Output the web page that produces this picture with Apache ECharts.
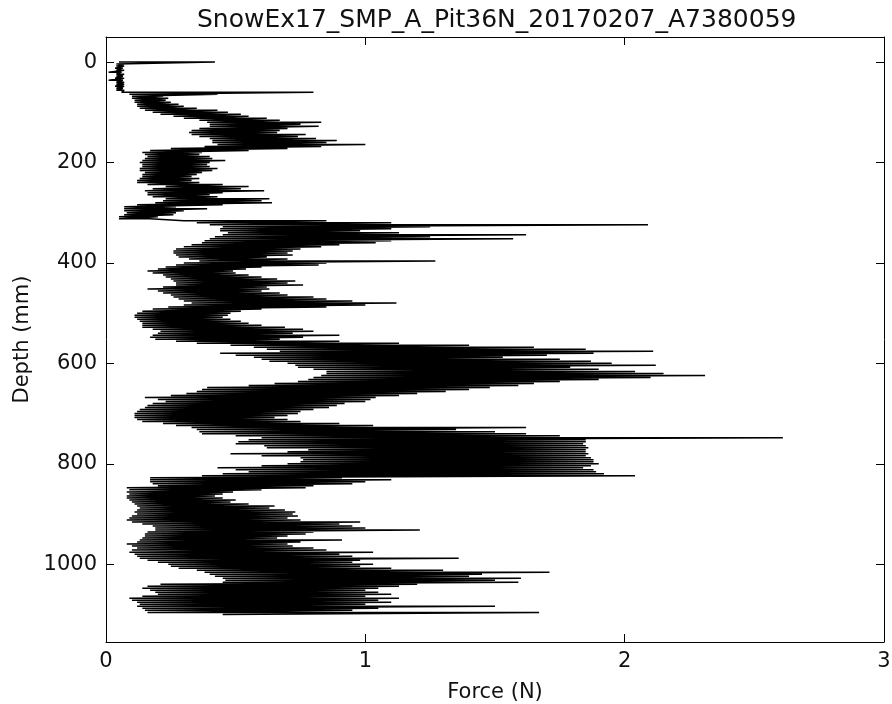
<!DOCTYPE html>
<html>
<head>
<meta charset="utf-8">
<script src="https://cdn.jsdelivr.net/npm/echarts@6/dist/echarts.min.js"></script>
<style>
html,body{margin:0;padding:0;background:#fff;}
#c{width:892px;height:704px;}
</style>
</head>
<body>
<div id="c"></div>
<script>
const titleText = 'SnowEx17_SMP_A_Pit36N_20170207_A7380059';
const xName = 'Force (N)';
const yName = 'Depth (mm)';
const yTicks = [0, 200, 400, 600, 800, 1000];

// depth (mm) of each sampled row
const depth = [
0,4,8,12,16,20,24,28,32,36,
40,44,48,52,56,60,64,68,72,76,
80,84,88,92,96,100,104,108,112,116,
120,124,128,132,136,140,144,148,152,156,
160,164,168,172,176,180,184,188,192,196,
200,204,208,212,216,220,224,228,232,236,
240,244,248,252,256,260,264,268,272,276,
280,284,288,292,296,300,304,308,312,316,
320,324,328,332,336,340,344,348,352,356,
360,364,368,372,376,380,384,388,392,396,
400,404,408,412,416,420,424,428,432,436,
440,444,448,452,456,460,464,468,472,476,
480,484,488,492,496,500,504,508,512,516,
520,524,528,532,536,540,544,548,552,556,
560,564,568,572,576,580,584,588,592,596,
600,604,608,612,616,620,624,628,632,636,
640,644,648,652,656,660,664,668,672,676,
680,684,688,692,696,700,704,708,712,716,
720,724,728,732,736,740,744,748,752,756,
760,764,768,772,776,780,784,788,792,796,
800,804,808,812,816,820,824,828,832,836,
840,844,848,852,856,860,864,868,872,876,
880,884,888,892,896,900,904,908,912,916,
920,924,928,932,936,940,944,948,952,956,
960,964,968,972,976,980,984,988,992,996,
1000,1004,1008,1012,1016,1020,1024,1028,1032,1036,
1040,1044,1048,1052,1056,1060,1064,1068,1072,1076,
1080,1084,1088,1092,1096,1100
];

// low-side force (N) of the trace at each row
const forceLow = [
0.05,0.04,0.04,0.035,0.04,0.01,0.04,0.04,0.035,0.01,
0.04,0.04,0.035,0.04,0.04,0.06,0.09,0.10,0.10,0.11,
0.11,0.12,0.12,0.13,0.15,0.18,0.21,0.26,0.30,0.36,
0.39,0.40,0.40,0.36,0.33,0.32,0.33,0.36,0.40,0.41,
0.41,0.43,0.38,0.25,0.17,0.14,0.15,0.16,0.15,0.14,
0.13,0.14,0.14,0.13,0.13,0.15,0.14,0.14,0.13,0.12,
0.12,0.16,0.23,0.18,0.15,0.16,0.16,0.18,0.23,0.22,
0.19,0.12,0.07,0.07,0.07,0.08,0.07,0.05,0.05,0.30,
0.35,0.40,0.45,0.44,0.44,0.47,0.45,0.42,0.40,0.38,
0.37,0.33,0.30,0.27,0.26,0.26,0.27,0.28,0.32,0.36,
0.30,0.27,0.23,0.20,0.16,0.18,0.22,0.23,0.25,0.26,
0.27,0.27,0.22,0.16,0.20,0.22,0.25,0.26,0.28,0.30,
0.33,0.30,0.24,0.18,0.14,0.12,0.11,0.11,0.12,0.13,
0.14,0.14,0.14,0.18,0.21,0.20,0.18,0.17,0.19,0.27,
0.35,0.48,0.57,0.62,0.67,0.44,0.50,0.57,0.60,0.63,
0.70,0.73,0.74,0.80,0.85,0.85,0.83,0.80,0.78,0.74,
0.65,0.55,0.39,0.37,0.35,0.31,0.25,0.15,0.20,0.23,
0.18,0.16,0.15,0.13,0.12,0.11,0.11,0.11,0.12,0.14,
0.22,0.27,0.33,0.35,0.36,0.37,0.50,0.60,0.55,0.51,
0.50,0.61,0.62,0.78,0.70,0.48,0.60,0.75,0.76,0.75,
0.70,0.60,0.43,0.50,0.55,0.45,0.37,0.17,0.17,0.17,
0.18,0.20,0.08,0.09,0.08,0.09,0.08,0.08,0.09,0.10,
0.11,0.12,0.13,0.12,0.11,0.12,0.10,0.09,0.08,0.10,
0.14,0.18,0.19,0.19,0.16,0.15,0.15,0.14,0.13,0.12,
0.08,0.10,0.12,0.10,0.09,0.11,0.12,0.13,0.16,0.20,
0.24,0.25,0.28,0.35,0.38,0.40,0.42,0.45,0.46,0.45,
0.21,0.16,0.14,0.17,0.19,0.20,0.14,0.09,0.10,0.12,
0.13,0.12,0.14,0.15,0.16,0.45
];

// high-side force (N) of the trace at each row
const forceHigh = [
0.42,0.07,0.07,0.065,0.07,0.06,0.07,0.065,0.07,0.065,
0.07,0.07,0.07,0.065,0.07,0.80,0.43,0.22,0.24,0.23,
0.25,0.28,0.30,0.35,0.43,0.47,0.52,0.55,0.62,0.67,
0.83,0.75,0.82,0.70,0.67,0.66,0.77,0.74,0.81,0.89,
0.85,1.00,0.83,0.70,0.55,0.37,0.36,0.40,0.41,0.46,
0.40,0.39,0.40,0.43,0.41,0.37,0.35,0.33,0.36,0.33,
0.36,0.45,0.55,0.52,0.61,0.45,0.40,0.43,0.63,0.60,
0.64,0.45,0.27,0.39,0.30,0.27,0.26,0.20,0.17,0.85,
1.10,2.09,1.25,1.10,0.98,1.13,1.62,1.25,1.57,1.10,
1.04,0.90,0.83,0.75,0.72,0.70,0.72,0.62,0.70,1.27,
0.85,0.82,0.60,0.54,0.49,0.50,0.55,0.60,0.66,0.73,
0.70,0.76,0.62,0.63,0.60,0.67,0.70,0.80,0.85,0.95,
1.12,1.00,0.85,0.60,0.52,0.48,0.47,0.45,0.48,0.52,
0.55,0.60,0.69,0.76,0.80,0.72,0.90,0.76,0.67,0.90,
1.13,1.40,1.65,1.85,2.11,1.88,1.70,1.53,1.75,1.87,
1.95,2.12,1.79,1.90,2.04,2.15,2.31,2.10,1.90,1.75,
1.65,1.59,1.48,1.40,1.31,1.20,1.13,1.04,1.02,1.00,
0.92,0.89,0.86,0.80,0.75,0.74,0.70,0.65,0.70,0.75,
0.90,1.03,1.62,1.35,1.50,1.62,1.75,2.61,1.85,1.85,
1.84,1.85,1.86,1.85,1.85,1.86,1.85,1.87,1.88,1.88,
1.90,1.87,1.84,1.88,1.89,1.92,2.04,0.91,1.10,1.00,
0.95,0.80,0.77,0.60,0.49,0.45,0.42,0.45,0.50,0.48,
0.55,0.65,0.63,0.69,0.73,0.72,0.74,0.70,0.75,0.98,
0.90,0.95,1.00,1.21,0.80,0.77,0.70,0.66,0.91,0.75,
0.70,0.72,0.80,0.85,1.03,0.90,0.95,1.36,0.98,0.95,
1.03,0.98,1.10,1.30,1.71,1.45,1.40,1.60,1.50,1.59,
1.20,1.13,1.05,1.00,1.05,1.10,1.00,1.13,1.05,1.10,
1.00,1.50,1.05,0.95,1.67,0.60
];

// the trace sweeps low -> high at each depth row
const points = [];
depth.forEach((d, i) => {
  points.push([forceLow[i], d]);
  points.push([forceHigh[i], d]);
});

const txt = '#111';
const font = 'DejaVu Sans';
const chart = echarts.init(document.getElementById('c'), null, {renderer: 'canvas'});

const baseX = {
  type: 'value', min: 0, max: 3, interval: 1,
  axisLine: {show: true, onZero: false, lineStyle: {color: '#000', width: 1}},
  axisTick: {show: true, inside: true, length: 8, lineStyle: {color: '#000', width: 1}},
  splitLine: {show: false}
};
const baseY = {
  type: 'value', min: -50, max: 1155, inverse: true,
  axisLine: {show: true, onZero: false, lineStyle: {color: '#000', width: 1}},
  axisTick: {show: true, inside: true, length: 8, customValues: yTicks, lineStyle: {color: '#000', width: 1}},
  splitLine: {show: false}
};

chart.setOption({
  animation: false,
  backgroundColor: '#fff',
  title: {
    text: titleText, left: 192, top: 3,
    textStyle: {fontFamily: font, fontSize: 25, fontWeight: 'normal', color: txt}
  },
  grid: {left: 106, right: 8, top: 37, bottom: 62, containLabel: false, outerBoundsMode: 'none'},
  xAxis: [
    Object.assign({}, baseX, {
      position: 'bottom', name: xName, nameLocation: 'middle', nameGap: 40,
      nameTextStyle: {fontFamily: font, fontSize: 21, color: txt},
      axisLabel: {show: true, margin: 9, fontFamily: font, fontSize: 21, color: txt}
    }),
    Object.assign({}, baseX, {position: 'top', axisLabel: {show: false}})
  ],
  yAxis: [
    Object.assign({}, baseY, {
      position: 'left', name: yName, nameLocation: 'middle', nameGap: 62,
      nameTextStyle: {fontFamily: font, fontSize: 21, color: txt},
      axisLabel: {show: true, margin: 9, customValues: yTicks, fontFamily: font, fontSize: 21, color: txt,
        formatter: (v) => String(v)}
    }),
    Object.assign({}, baseY, {position: 'right', axisLabel: {show: false}})
  ],
  series: [{
    type: 'line',
    xAxisIndex: 0, yAxisIndex: 0,
    data: points,
    showSymbol: false,
    symbol: 'none',
    clip: true,
    lineStyle: {color: '#000', width: 1.5},
    silent: true
  }]
});
</script>
</body>
</html>
